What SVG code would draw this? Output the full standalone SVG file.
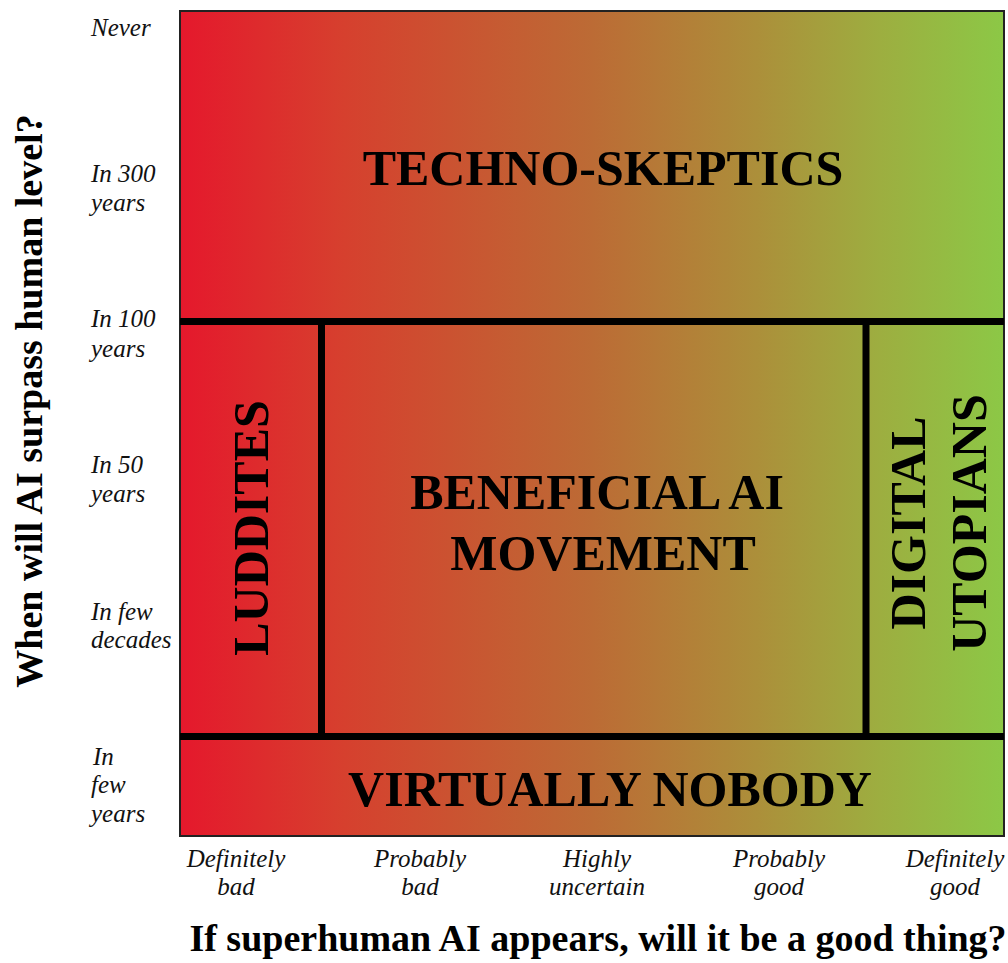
<svg xmlns="http://www.w3.org/2000/svg" width="1008" height="963" viewBox="0 0 1008 963">
  <defs>
    <linearGradient id="grad" x1="180" y1="0" x2="1004" y2="0" gradientUnits="userSpaceOnUse">
      <stop offset="0" stop-color="#E5182C"/>
      <stop offset="0.2" stop-color="#D6402E"/>
      <stop offset="0.5" stop-color="#BC6B35"/>
      <stop offset="0.7" stop-color="#AC8F3A"/>
      <stop offset="0.85" stop-color="#9DAE40"/>
      <stop offset="1" stop-color="#8CC846"/>
    </linearGradient>
  </defs>
  <style>
    .region { font-family: "Liberation Serif", "Times New Roman", serif; font-weight: bold; font-size: 50px; fill: #000; text-anchor: middle; }
    .tick { font-family: "Liberation Serif", "Times New Roman", serif; font-style: italic; font-size: 25px; fill: #111; }
    .xtick { text-anchor: middle; }
    .title { font-family: "Liberation Serif", "Times New Roman", serif; font-weight: bold; font-size: 38px; fill: #000; text-anchor: middle; }
    .divider { stroke: #000; stroke-width: 7; fill: none; }
  </style>

  <g id="plot-area">
    <rect x="180" y="11" width="824" height="825" fill="url(#grad)" stroke="#222" stroke-width="2"/>
  </g>

  <g id="connectors">
    <line class="divider" x1="180" y1="321.5" x2="1004" y2="321.5"/>
    <line class="divider" x1="180" y1="736.5" x2="1004" y2="736.5"/>
    <line class="divider" x1="321.5" y1="321.5" x2="321.5" y2="736.5"/>
    <line class="divider" x1="866" y1="321.5" x2="866" y2="736.5"/>
  </g>

  <g id="techno-skeptics">
    <text class="region" x="603" y="185">TECHNO-SKEPTICS</text>
  </g>
  <g id="luddites">
    <text class="region" transform="translate(268,528) rotate(-90)" x="0" y="0">LUDDITES</text>
  </g>
  <g id="beneficial-ai">
    <text class="region" x="597" y="509">BENEFICIAL AI</text>
    <text class="region" x="603" y="570">MOVEMENT</text>
  </g>
  <g id="digital-utopians">
    <text class="region" transform="translate(925,523) rotate(-90)" x="0" y="0">DIGITAL</text>
    <text class="region" transform="translate(986,523) rotate(-90)" x="0" y="0">UTOPIANS</text>
  </g>
  <g id="virtually-nobody">
    <text class="region" x="610" y="806">VIRTUALLY NOBODY</text>
  </g>

  <g id="y-ticks">
    <text class="tick" x="91" y="36">Never</text>
    <text class="tick" x="91" y="182">In 300</text>
    <text class="tick" x="91" y="211">years</text>
    <text class="tick" x="91" y="327">In 100</text>
    <text class="tick" x="91" y="357">years</text>
    <text class="tick" x="91" y="473">In 50</text>
    <text class="tick" x="91" y="502">years</text>
    <text class="tick" x="91" y="620">In few</text>
    <text class="tick" x="91" y="648">decades</text>
    <text class="tick" x="93" y="765">In</text>
    <text class="tick" x="91" y="793">few</text>
    <text class="tick" x="91" y="822">years</text>
  </g>

  <g id="x-ticks">
    <text class="tick xtick" x="236" y="867">Definitely</text>
    <text class="tick xtick" x="236" y="895">bad</text>
    <text class="tick xtick" x="420" y="867">Probably</text>
    <text class="tick xtick" x="420" y="895">bad</text>
    <text class="tick xtick" x="597" y="867">Highly</text>
    <text class="tick xtick" x="597" y="895">uncertain</text>
    <text class="tick xtick" x="779" y="867">Probably</text>
    <text class="tick xtick" x="779" y="895">good</text>
    <text class="tick xtick" x="955" y="867">Definitely</text>
    <text class="tick xtick" x="955" y="895">good</text>
  </g>

  <g id="x-axis-title">
    <text class="title" x="598" y="951">If superhuman AI appears, will it be a good thing?</text>
  </g>
  <g id="y-axis-title">
    <text class="title" transform="translate(42,401) rotate(-90)" x="0" y="0">When will AI surpass human level?</text>
  </g>
</svg>
